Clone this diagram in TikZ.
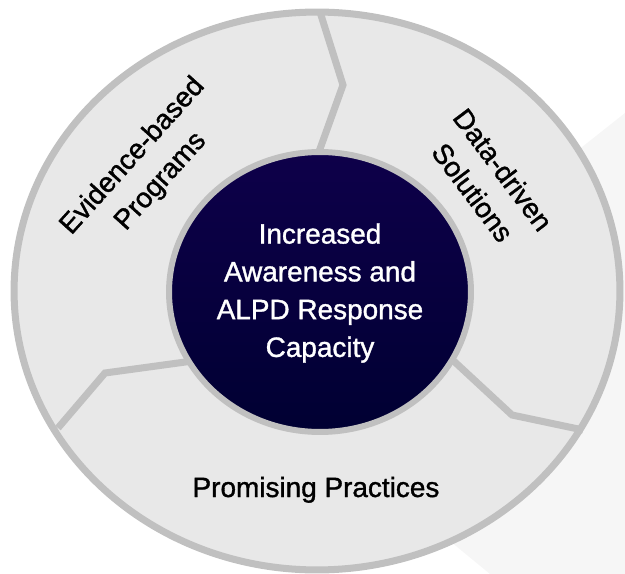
\documentclass[tikz,border=0pt]{standalone}
\usepackage{fontspec}
\setmainfont{Liberation Sans}
\newfontfamily\labelfont[FakeBold=1.2]{Liberation Sans}
\usepackage{tikz}
\usetikzlibrary{shapes.geometric}
\definecolor{ringfill}{RGB}{232,232,232}
\definecolor{ringline}{RGB}{192,192,192}
\definecolor{navytop}{RGB}{14,0,74}
\definecolor{navybottom}{RGB}{0,0,50}
\definecolor{backshade}{RGB}{246,246,246}

\begin{document}
\begin{tikzpicture}[x=0.02cm,y=-0.02cm,
    rimline/.style={draw=ringline,line width=4pt},
    ringlabel/.style={align=center,font=\labelfont\fontsize{15.9}{21.5}\selectfont},
    hublabel/.style={ringlabel,text=white}]
    \useasboundingbox (0,0) rectangle (625,574);

    % faint backdrop on the right
    \fill[backshade] (400,500) -- (500,212) -- (625,113) -- (625,574) -- (490,574) -- cycle;

    % outer ring
    \node[ellipse,rimline,fill=ringfill,inner sep=0pt,
          minimum width=12.12cm,minimum height=11.16cm] (ring) at (317,291) {};

    % dividers
    \coordinate (topout) at (320,12);
    \coordinate (topbend) at (343,85);
    \coordinate (topin) at (316,160);
    \coordinate (rightout) at (583,430);
    \coordinate (rightbend) at (512,415);
    \coordinate (rightin) at (444,352);
    \coordinate (leftout) at (58,428);
    \coordinate (leftbend) at (105,373);
    \coordinate (leftin) at (200,360);
    \draw[rimline] (topout) -- (topbend) -- (topin);
    \draw[rimline] (rightout) -- (rightbend) -- (rightin);
    \draw[rimline] (leftout) -- (leftbend) -- (leftin);

    % hub
    \node[ellipse,draw=ringline,line width=3.4pt,top color=navytop,bottom color=navybottom,
          inner sep=0pt,minimum width=6.04cm,minimum height=5.6cm] (hub) at (320,292) {};
    \node[hublabel] (hubtext) at (320,293) {Increased\\Awareness and\\ALPD Response\\Capacity};

    % segment labels
    \node[ringlabel,rotate=48] (evidence) at (147,169) {Evidence-based\\Programs};
    \node[ringlabel,rotate=-53] (datadriven) at (488,181) {Data-driven\\Solutions};
    \node[ringlabel,anchor=base] (promising) at (316,497) {Promising Practices};
\end{tikzpicture}
\end{document}
